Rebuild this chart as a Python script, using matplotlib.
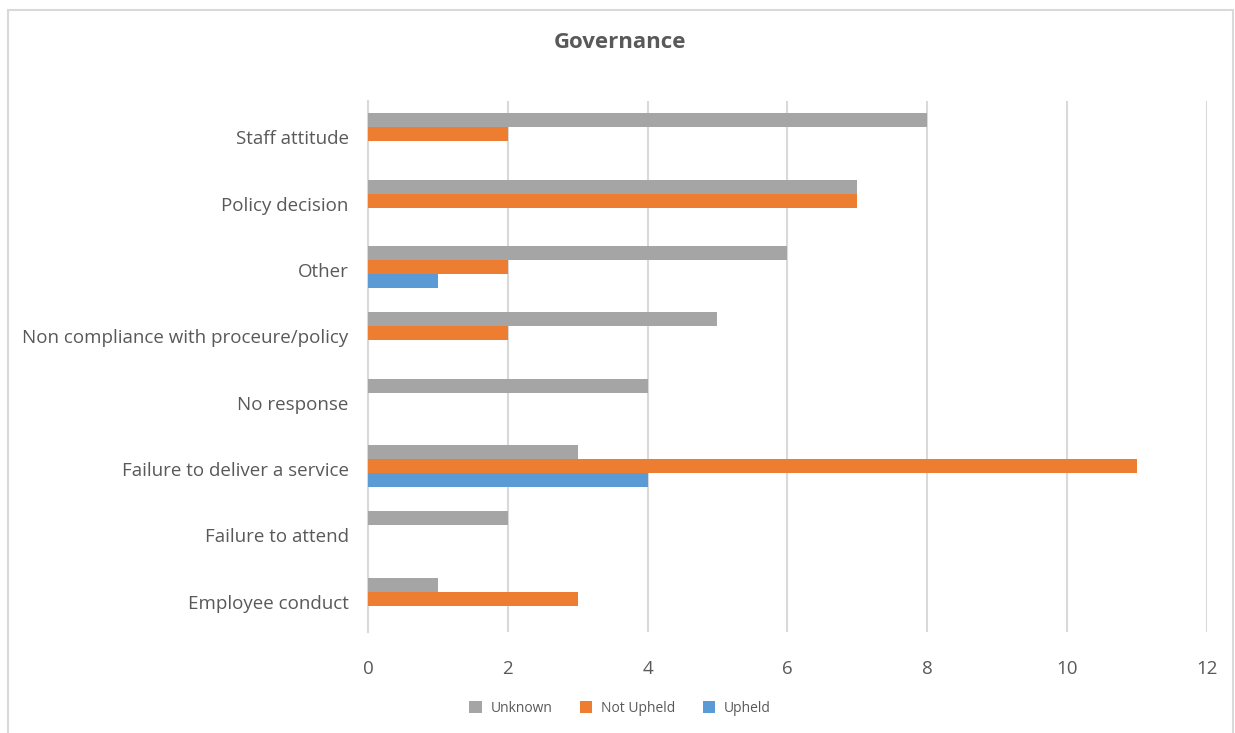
import numpy as np
import matplotlib.pyplot as plt
from matplotlib.patches import Rectangle

plt.rcParams['font.family'] = ['Open Sans', 'DejaVu Sans']

# -------------------------
# Data (bottom to top as drawn)
# -------------------------
categories = ["Employee conduct", "Failure to attend", "Failure to deliver a service",
              "No response", "Non compliance with proceure/policy", "Other",
              "Policy decision", "Staff attitude"]
unknown = [1, 2, 3, 4, 5, 6, 7, 8]
not_upheld = [3, 0, 11, 0, 2, 2, 7, 2]
upheld = [0, 0, 4, 0, 0, 1, 0, 0]

series = [("Unknown", unknown, "#a5a5a5"),
          ("Not Upheld", not_upheld, "#ed7d31"),
          ("Upheld", upheld, "#5b9bd5")]

# -------------------------
# Plot
# -------------------------
fig = plt.figure(figsize=(12.35, 7.33), dpi=100)
ax = fig.add_axes([0.298, 0.138, 0.679, 0.724])

y = np.arange(len(categories))
h = 0.21
for i, (name, vals, col) in enumerate(series):
    ax.barh(y + h - i * h, vals, height=h, color=col, label=name, zorder=3)

ax.set_xlim(0, 12)
ax.set_ylim(-0.5, len(categories) - 0.5)
ax.set_xticks(range(0, 13, 2))
ax.set_yticks(y - 0.045)
ax.set_yticklabels(categories)
ax.grid(axis="x", color="#d9d9d9", linewidth=1.5, zorder=0)
for s in ["top", "right", "bottom"]:
    ax.spines[s].set_visible(False)
ax.spines["left"].set_color("#d9d9d9")
ax.spines["left"].set_linewidth(1.5)
ax.tick_params(axis="both", length=0, labelsize=13.5, labelcolor="#595959")
ax.tick_params(axis="x", pad=20)
ax.tick_params(axis="y", pad=14)

fig.text(0.502, 0.942, "Governance", ha="center", va="center",
         fontsize=16, fontweight="bold", color="#595959")

fig.legend(loc="center", bbox_to_anchor=(0.502, 0.034), ncol=3, frameon=False,
           fontsize=10, labelcolor="#595959", handlelength=0.9, handleheight=0.9,
           columnspacing=2.0, handletextpad=0.6)

# chart border
fig.patches.append(Rectangle((8 / 1235, -0.01), 1225 / 1235, 1 - 10 / 733 + 0.01,
                             transform=fig.transFigure, fill=False,
                             edgecolor="#d9d9d9", linewidth=1.5))

fig.savefig("out.png", dpi=100)
